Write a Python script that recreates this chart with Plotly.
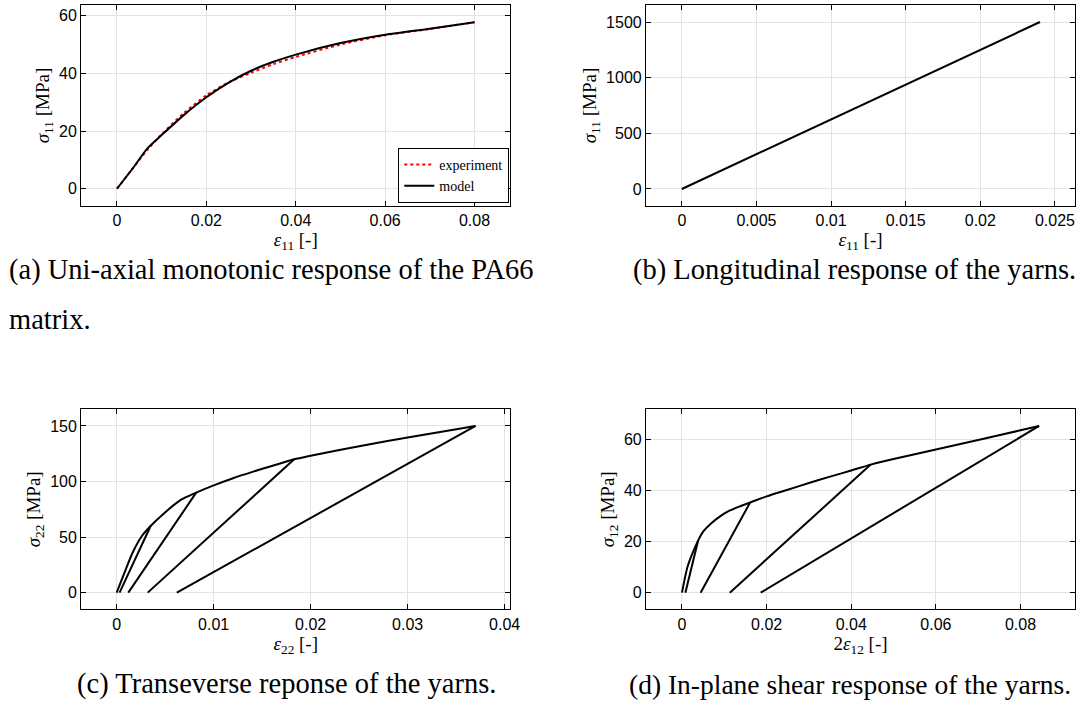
import plotly.graph_objects as go

# ---------------- data ----------------
# (a) PA66 matrix, uni-axial monotonic
a_exp_x = [0, 0.0035, 0.007, 0.01, 0.015, 0.02, 0.025, 0.03, 0.035, 0.04, 0.05, 0.06, 0.07, 0.08]
a_exp_y = [0, 7.0, 13.8, 18.9, 26.3, 32.4, 36.9, 40.2, 43.2, 45.7, 50.0, 53.2, 55.4, 57.7]
a_mod_x = [0, 0.0035, 0.0068, 0.01, 0.015, 0.02, 0.025, 0.03, 0.035, 0.04, 0.05, 0.06, 0.07, 0.08]
a_mod_y = [0, 7.0, 14.0, 18.6, 25.6, 31.7, 36.8, 40.9, 44.0, 46.5, 50.5, 53.4, 55.5, 57.7]

# (b) yarns, longitudinal
b_x = [0, 0.006, 0.012, 0.018, 0.024]
b_y = [0, 375, 750, 1125, 1500]

# (c) yarns, transverse: loading envelope and unload/reload branches
c_env_x = [0, 0.0009, 0.0017, 0.0026, 0.0035, 0.0049, 0.0066, 0.0082,
           0.01, 0.012, 0.014, 0.016, 0.0183, 0.02, 0.025, 0.03, 0.037]
c_env_y = [0, 20, 37, 51, 60, 71.5, 83.4, 90,
           96.5, 103, 108.7, 114, 120, 123.2, 131.8, 139.6, 150]
c_unl_x = [0.0035, 0.0003, None, 0.0082, 0.0012, None, 0.0183, 0.0032, None, 0.037, 0.0062]
c_unl_y = [60, 0, None, 90, 0, None, 120, 0, None, 150, 0]

# (d) yarns, in-plane shear: loading envelope and unload/reload branches
d_env_x = [0, 0.0006, 0.0013, 0.0024, 0.0038, 0.005, 0.007, 0.009, 0.011, 0.0135, 0.0161,
           0.02, 0.025, 0.03, 0.035, 0.04, 0.0446, 0.05, 0.06, 0.07, 0.08, 0.0844]
d_env_y = [0, 5, 10, 15, 20.3, 23.8, 27.2, 29.8, 31.8, 33.6, 35.2,
           37.6, 40.2, 42.8, 45.3, 47.7, 50, 52.2, 55.9, 59.6, 63.4, 65.1]
d_unl_x = [0.0038, 0.0008, None, 0.0161, 0.0044, None, 0.0446, 0.0113, None, 0.0844, 0.0186]
d_unl_y = [20.3, 0, None, 35.2, 0, None, 50, 0, None, 65.1, 0]

# axis ticks
a_xticks = [0, 0.02, 0.04, 0.06, 0.08]
a_yticks = [0, 20, 40, 60]
b_xticks = [0, 0.005, 0.01, 0.015, 0.02, 0.025]
b_yticks = [0, 500, 1000, 1500]
c_xticks = [0, 0.01, 0.02, 0.03, 0.04]
c_yticks = [0, 50, 100, 150]
d_xticks = [0, 0.02, 0.04, 0.06, 0.08]
d_yticks = [0, 20, 40, 60]

captions = [
    "(a) Uni-axial monotonic response of the PA66",
    "matrix.",
    "(b) Longitudinal response of the yarns.",
    "(c) Transeverse reponse of the yarns.",
    "(d) In-plane shear response of the yarns.",
]

W, H = 1091, 714
SERIF = "Liberation Serif, DejaVu Serif, serif"
SANS = "Liberation Sans, Arial, Helvetica, sans-serif"

fig = go.Figure()

fig.add_trace(go.Scatter(x=a_exp_x, y=a_exp_y, mode="lines", name="experiment",
                         line=dict(color="red", width=2, dash="dot", shape="spline", smoothing=0.6),
                         xaxis="x", yaxis="y"))
fig.add_trace(go.Scatter(x=a_mod_x, y=a_mod_y, mode="lines", name="model",
                         line=dict(color="black", width=2, shape="spline", smoothing=0.6),
                         xaxis="x", yaxis="y"))
fig.add_trace(go.Scatter(x=b_x, y=b_y, mode="lines", showlegend=False,
                         line=dict(color="black", width=2),
                         xaxis="x2", yaxis="y2"))
fig.add_trace(go.Scatter(x=c_env_x, y=c_env_y, mode="lines", showlegend=False,
                         line=dict(color="black", width=2, shape="spline", smoothing=0.8),
                         xaxis="x3", yaxis="y3"))
fig.add_trace(go.Scatter(x=c_unl_x, y=c_unl_y, mode="lines", showlegend=False,
                         line=dict(color="black", width=2), connectgaps=False,
                         xaxis="x3", yaxis="y3"))
fig.add_trace(go.Scatter(x=d_env_x, y=d_env_y, mode="lines", showlegend=False,
                         line=dict(color="black", width=2, shape="spline", smoothing=0.8),
                         xaxis="x4", yaxis="y4"))
fig.add_trace(go.Scatter(x=d_unl_x, y=d_unl_y, mode="lines", showlegend=False,
                         line=dict(color="black", width=2), connectgaps=False,
                         xaxis="x4", yaxis="y4"))


def px_x(p):
    return p / W


def px_y(p):
    return 1 - p / H


def g(v):
    return "%g" % v


def axis(domain, rng, ticks, anchor, title, standoff):
    return dict(
        domain=domain, range=rng, tickvals=ticks,
        ticktext=[g(t) for t in ticks],
        anchor=anchor, showline=True, linecolor="black", linewidth=1.3,
        mirror="ticks", ticks="inside", ticklen=5, tickwidth=1, tickcolor="black",
        showgrid=True, gridcolor="#e3e3e3", gridwidth=1, zeroline=False,
        tickfont=dict(family=SANS, size=16, color="black"),
        title=dict(text=title, font=dict(family=SERIF, size=19, color="black"),
                   standoff=standoff),
    )


colL = [px_x(82), px_x(515)]
colR = [px_x(652), px_x(1085)]
rowT = [px_y(206), px_y(5)]
rowB = [px_y(609.3), px_y(409.3)]

fig.update_layout(
    width=W, height=H,
    margin=dict(l=0, r=0, t=0, b=0),
    paper_bgcolor="white", plot_bgcolor="white",
    xaxis=axis(colL, [-0.008, 0.088], a_xticks, "y", "<i>ε</i><sub>11</sub> [-]", 0),
    yaxis=axis(rowT, [-6.0, 63.7], a_yticks, "x", "<i>σ</i><sub>11</sub> [MPa]", 4),
    xaxis2=axis(colR, [-0.0024, 0.02635], b_xticks, "y2", "<i>ε</i><sub>11</sub> [-]", 0),
    yaxis2=axis(rowT, [-153, 1653], b_yticks, "x2", "<i>σ</i><sub>11</sub> [MPa]", 4),
    xaxis3=axis(colL, [-0.00365, 0.04058], c_xticks, "y3", "<i>ε</i><sub>22</sub> [-]", 0),
    yaxis3=axis(rowB, [-15, 165], c_yticks, "x3", "<i>σ</i><sub>22</sub> [MPa]", 4),
    xaxis4=axis(colR, [-0.0085, 0.0929], d_xticks, "y4", "2<i>ε</i><sub>12</sub> [-]", 0),
    yaxis4=axis(rowB, [-6.5, 71.6], d_yticks, "x4", "<i>σ</i><sub>12</sub> [MPa]", 4),
    legend=dict(
        x=px_x(514), y=px_y(203), xanchor="right", yanchor="bottom",
        bgcolor="white", bordercolor="black", borderwidth=1,
        font=dict(family=SERIF, size=14, color="black"),
        tracegroupgap=0, itemwidth=30,
    ),
    showlegend=True,
)

# (left x, centre y, caption index, font size)
cap_pos = [(7, 270, 0, 28.5), (7, 319, 1, 28.5), (637, 270, 2, 28.5),
           (76, 684, 3, 28.5), (633, 684, 4, 27.5)]
for x0, y0, i, fs in cap_pos:
    fig.add_annotation(text=captions[i], x=px_x(x0), y=px_y(y0), xref="paper", yref="paper",
                       xanchor="left", yanchor="middle", showarrow=False,
                       font=dict(family=SERIF, size=fs, color="black"))

fig.write_html("out.html")
